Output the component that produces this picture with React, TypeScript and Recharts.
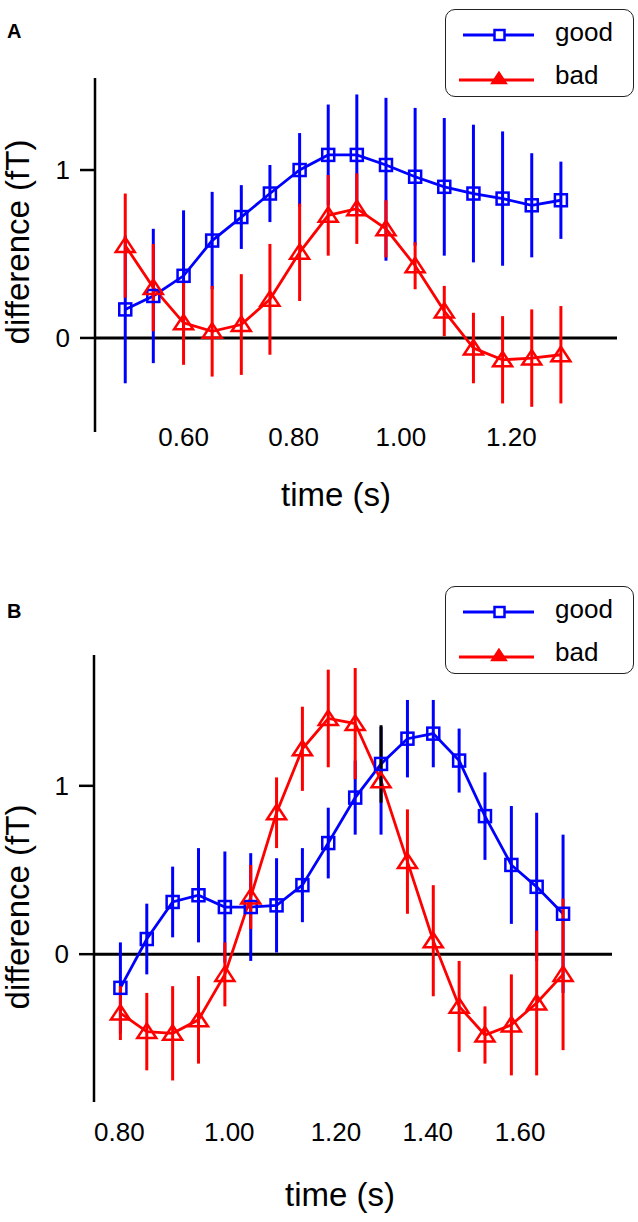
import { LineChart, Line, XAxis, YAxis, ErrorBar, ReferenceLine, Legend } from 'recharts';

const FONT = '"Liberation Sans", Arial, Helvetica, sans-serif';
const BLUE = '#0000ff';
const RED = '#ff0000';
const W = 638;

// ---- panel A ----
const TIME_A = [0.494, 0.545, 0.6, 0.652, 0.705, 0.757, 0.811, 0.863, 0.915, 0.968, 1.021, 1.074, 1.127, 1.18, 1.233, 1.286];
const GOOD_A = [0.17, 0.25, 0.37, 0.58, 0.72, 0.86, 1.0, 1.09, 1.09, 1.03, 0.96, 0.9, 0.86, 0.83, 0.79, 0.82];
const GOOD_A_ERR_LO = [0.44, 0.4, 0.39, 0.29, 0.19, 0.17, 0.22, 0.3, 0.36, 0.57, 0.41, 0.41, 0.41, 0.4, 0.31, 0.23];
const GOOD_A_ERR_HI = [0.44, 0.4, 0.39, 0.29, 0.19, 0.17, 0.22, 0.3, 0.36, 0.4, 0.41, 0.41, 0.41, 0.4, 0.31, 0.23];
const BAD_A = [0.55, 0.3, 0.09, 0.04, 0.08, 0.23, 0.51, 0.73, 0.77, 0.65, 0.43, 0.16, -0.06, -0.13, -0.12, -0.1];
const BAD_A_ERR = [0.31, 0.26, 0.25, 0.27, 0.3, 0.33, 0.29, 0.24, 0.21, 0.17, 0.14, 0.15, 0.21, 0.26, 0.29, 0.29];
const X_TICKS_A = [0.6, 0.8, 0.995, 1.196];
const X_LABELS_A = ['0.60', '0.80', '1.00', '1.20'];

// ---- panel B ----
const TIME_B = [0.802, 0.85, 0.897, 0.944, 0.992, 1.039, 1.086, 1.133, 1.18, 1.229, 1.276, 1.324, 1.371, 1.418, 1.465, 1.513, 1.559, 1.607];
const GOOD_B = [-0.2, 0.09, 0.31, 0.35, 0.28, 0.28, 0.29, 0.41, 0.66, 0.93, 1.13, 1.28, 1.31, 1.15, 0.82, 0.53, 0.4, 0.24];
const GOOD_B_ERR = [0.27, 0.21, 0.21, 0.28, 0.33, 0.32, 0.28, 0.22, 0.21, 0.22, null, 0.23, 0.2, 0.19, 0.26, 0.35, 0.44, 0.47];
const BAD_B = [-0.35, -0.46, -0.47, -0.39, -0.12, 0.34, 0.84, 1.22, 1.4, 1.37, 1.03, 0.55, 0.08, -0.31, -0.48, -0.42, -0.29, -0.12];
const BAD_B_ERR = [0.16, 0.23, 0.28, 0.26, 0.19, 0.19, 0.21, 0.25, 0.29, 0.33, null, 0.31, 0.33, 0.27, 0.17, 0.3, 0.43, 0.45];
// at one sample the bars come out in other colours: black on "good", blue on "bad"
const ODD_B_INDEX = 10;
const ODD_GOOD_ERR = 0.23;
const ODD_BAD_ERR = 0.32;
const X_TICKS_B = [0.8, 1.0, 1.194, 1.361, 1.529];
const X_LABELS_B = ['0.80', '1.00', '1.20', '1.40', '1.60'];

const rowsA = TIME_A.map((t, i) => ({
  t,
  good: GOOD_A[i],
  goodErr: [GOOD_A_ERR_LO[i], GOOD_A_ERR_HI[i]],
  bad: BAD_A[i],
  badErr: BAD_A_ERR[i],
}));

const rowsB = TIME_B.map((t, i) => ({
  t,
  good: GOOD_B[i],
  goodErr: GOOD_B_ERR[i],
  bad: BAD_B[i],
  badErr: BAD_B_ERR[i],
  oddGood: i === ODD_B_INDEX ? GOOD_B[i] : null,
  oddGoodErr: i === ODD_B_INDEX ? ODD_GOOD_ERR : null,
  oddBad: i === ODD_B_INDEX ? BAD_B[i] : null,
  oddBadErr: i === ODD_B_INDEX ? ODD_BAD_ERR : null,
}));

const square = (p: any) => {
  if (p.cx == null || p.cy == null) return <g key={`s${p.index}`} />;
  return (
    <rect key={`s${p.index}`} x={p.cx - 6} y={p.cy - 6} width={12} height={12}
      fill="none" stroke={BLUE} strokeWidth={2.5} />
  );
};

const triangle = (p: any) => {
  if (p.cx == null || p.cy == null) return <g key={`t${p.index}`} />;
  const { cx, cy } = p;
  return (
    <polygon key={`t${p.index}`}
      points={`${cx},${cy - 8} ${cx - 9.5},${cy + 6.5} ${cx + 9.5},${cy + 6.5}`}
      fill="none" stroke={RED} strokeWidth={2.5} strokeLinejoin="miter" />
  );
};

const LegendBox = () => (
  <div style={{ width: 189, height: 88, border: '1.3px solid #222', borderRadius: 10, background: '#fff', boxSizing: 'border-box' }}>
    <svg width={187} height={86} style={{ display: 'block' }}>
      <line x1={17} x2={88} y1={25} y2={25} stroke={BLUE} strokeWidth={2.8} />
      <rect x={48.5} y={20} width={10} height={10} fill="#fff" stroke={BLUE} strokeWidth={2.5} />
      <text x={109} y={31} fontSize={26} fontFamily={FONT} fill="#000">good</text>
      <line x1={13} x2={88} y1={70} y2={70} stroke={RED} strokeWidth={2.8} />
      <polygon points="53,62 45.5,73.5 60.5,73.5" fill={RED} stroke={RED} strokeWidth={1.5} />
      <text x={109} y={74} fontSize={26} fontFamily={FONT} fill="#000">bad</text>
    </svg>
  </div>
);

interface PanelProps {
  rows: any[];
  letter: string;
  height: number;
  plotLeft: number;
  plotRight: number;
  plotTop: number;
  plotBottom: number;
  xDomain: [number, number];
  yDomain: [number, number];
  xTicks: number[];
  xLabels: string[];
  xTickMargin: number;
  xTitleX: number;
  xTitleY: number;
  yTitleY: number;
  letterY: number;
  odd?: boolean;
}

function Panel(props: PanelProps) {
  const {
    rows, letter, height, plotLeft, plotRight, plotTop, plotBottom, xDomain, yDomain,
    xTicks, xLabels, xTickMargin, xTitleX, xTitleY, yTitleY, letterY, odd,
  } = props;
  const xAxisH = 30;

  const xTitle = () => (
    <text x={xTitleX} y={xTitleY} textAnchor="middle" fontSize={33} fontFamily={FONT} fill="#000">time (s)</text>
  );
  const yTitle = () => (
    <g>
      <text x={7} y={letterY} fontSize={20} fontWeight="bold" fontFamily={FONT} fill="#000">{letter}</text>
      <text x={29} y={yTitleY} transform={`rotate(-90 29 ${yTitleY})`} textAnchor="middle"
        fontSize={33} fontFamily={FONT} fill="#000">difference (fT)</text>
    </g>
  );

  return (
    <LineChart
      width={W}
      height={height}
      data={rows}
      margin={{ top: plotTop, right: W - plotRight, left: 0, bottom: height - plotBottom - xAxisH }}
    >
      <XAxis
        type="number"
        dataKey="t"
        domain={xDomain}
        ticks={xTicks}
        interval={0}
        allowDataOverflow
        axisLine={false}
        tickLine={false}
        tickSize={0}
        tickMargin={xTickMargin}
        height={xAxisH}
        tick={{ fontSize: 26, fill: '#000', fontFamily: FONT }}
        tickFormatter={(v: number) => xLabels[xTicks.indexOf(v)]}
        label={xTitle}
      />
      <YAxis
        type="number"
        domain={yDomain}
        ticks={[0, 1]}
        interval={0}
        allowDataOverflow
        width={plotLeft}
        axisLine={{ stroke: '#000', strokeWidth: 2.5 }}
        tickLine={{ stroke: '#000', strokeWidth: 2.5 }}
        tickSize={15}
        tickMargin={10}
        tick={{ fontSize: 26, fill: '#000', fontFamily: FONT }}
        label={yTitle}
      />
      <ReferenceLine y={0} stroke="#000" strokeWidth={3} />
      <Legend layout="horizontal" verticalAlign="middle" align="center" content={LegendBox}
        wrapperStyle={{ position: 'absolute', left: 445, top: 9, width: 189, height: 88 }} />
      <Line type="linear" dataKey="good" name="good" stroke={BLUE} strokeWidth={2.8}
        dot={square} activeDot={false} isAnimationActive={false}>
        <ErrorBar dataKey="goodErr" width={0} stroke={BLUE} strokeWidth={3} />
      </Line>
      <Line type="linear" dataKey="bad" name="bad" stroke={RED} strokeWidth={2.8}
        dot={triangle} activeDot={false} isAnimationActive={false}>
        <ErrorBar dataKey="badErr" width={0} stroke={RED} strokeWidth={3} />
      </Line>
      {odd && (
        <Line dataKey="oddBad" stroke="none" dot={false} activeDot={false} legendType="none" isAnimationActive={false}>
          <ErrorBar dataKey="oddBadErr" width={0} stroke={BLUE} strokeWidth={3} />
        </Line>
      )}
      {odd && (
        <Line dataKey="oddGood" stroke="none" dot={false} activeDot={false} legendType="none" isAnimationActive={false}>
          <ErrorBar dataKey="oddGoodErr" width={0} stroke="#000" strokeWidth={3} />
        </Line>
      )}
    </LineChart>
  );
}

export default function App() {
  return (
    <div style={{ position: 'absolute', left: 0, top: 0, width: W, height: 1222, background: '#fff', fontFamily: FONT }}>
      <Panel
        rows={rowsA}
        letter="A"
        height={577}
        plotLeft={95}
        plotRight={617}
        plotTop={78}
        plotBottom={432}
        xDomain={[0.439, 1.388]}
        yDomain={[-0.56, 1.548]}
        xTicks={X_TICKS_A}
        xLabels={X_LABELS_A}
        xTickMargin={-4}
        xTitleX={336}
        xTitleY={506}
        yTitleY={242}
        letterY={38}
      />
      <Panel
        rows={rowsB}
        letter="B"
        height={645}
        plotLeft={94}
        plotRight={612}
        plotTop={78}
        plotBottom={525}
        xDomain={[0.754, 1.696]}
        yDomain={[-0.878, 1.777]}
        xTicks={X_TICKS_B}
        xLabels={X_LABELS_B}
        xTickMargin={21}
        xTitleX={340}
        xTitleY={629}
        yTitleY={330}
        letterY={41}
        odd
      />
    </div>
  );
}
